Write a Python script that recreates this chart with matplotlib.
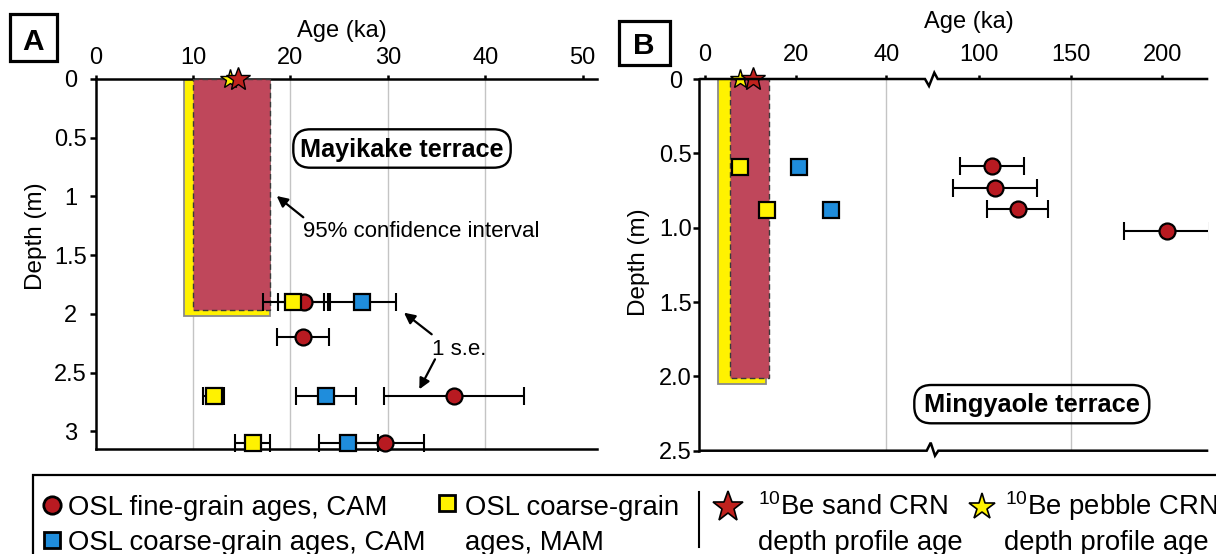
import matplotlib
matplotlib.use('Agg')
import matplotlib.pyplot as plt
from matplotlib.patches import Rectangle, FancyBboxPatch

plt.rcParams['font.family'] = ['Liberation Sans', 'DejaVu Sans']
plt.rcParams['mathtext.fontset'] = 'custom'
plt.rcParams['mathtext.rm'] = 'Liberation Sans'

# ---------------- Data: panel A (Mayikake terrace) ----------------
a_fine_age = [21.4, 21.3, 36.8, 29.7]
a_fine_err = [2.7, 2.7, 7.2, 4.0]
a_fine_depth = [1.90, 2.20, 2.70, 3.10]

a_cam_age = [27.3, 23.65, 25.95]
a_cam_err = [3.5, 3.1, 3.05]
a_cam_depth = [1.90, 2.70, 3.10]

a_mam_age = [20.3, 12.1, 16.1]
a_mam_err = [3.1, 1.1, 1.75]
a_mam_depth = [1.90, 2.70, 3.10]

a_sand_age = [14.6]
a_pebble_age = [13.8]
a_sand_ci = [9.96, 17.9, 1.97]     # min age, max age, bottom depth
a_pebble_ci = [9.1, 17.9, 2.02]

a_xticks = [0, 10, 20, 30, 40, 50]
a_yticks = [0, 0.5, 1, 1.5, 2, 2.5, 3]
a_yticklabels = ['0', '0.5', '1', '1.5', '2', '2.5', '3']
a_grid = [10, 20, 30, 40]

# ---------------- Data: panel B (Mingyaole terrace) ----------------
b_fine_age = [107.1, 108.6, 121.1, 202.6]
b_fine_err = [17.7, 23.1, 16.7, 23.5]
b_fine_depth = [0.585, 0.73, 0.875, 1.02]

b_cam_age = [20.8, 27.8]
b_cam_depth = [0.59, 0.88]

b_mam_age = [7.75, 13.7]
b_mam_depth = [0.59, 0.88]

b_sand_age = [10.5]
b_pebble_age = [7.7]
b_sand_ci = [5.5, 14.2, 2.009]
b_pebble_ci = [2.9, 13.5, 2.053]

b1_xticks = [0, 20, 40]
b2_xticks = [100, 150, 200]
b_yticks = [0, 0.5, 1.0, 1.5, 2.0, 2.5]
b_yticklabels = ['0', '0.5', '1.0', '1.5', '2.0', '2.5']
b1_grid = [40]
b2_grid = [150]

# ---------------- Style ----------------
RED = '#B81A21'
BLUE = '#1F8DDC'
YEL = '#FFF200'
PINK = '#BF475B'
STAR_RED = '#C0221E'
GRID = '#c4c4c4'
LW = 1.8

W, H = 1216, 554
fig = plt.figure(figsize=(W / 100, H / 100), dpi=100)


def ax_rect(l, r, t, b):
    return [l / W, 1 - b / H, (r - l) / W, (b - t) / H]


axA = fig.add_axes(ax_rect(95.7, 597, 79, 449.3))
axB1 = fig.add_axes(ax_rect(699.3, 930, 79, 450.7))
axB2 = fig.add_axes(ax_rect(930, 1208.3, 79, 450.7))

for ax in (axA, axB1, axB2):
    ax.patch.set_alpha(0)
    ax.xaxis.tick_top()
    for s in ax.spines.values():
        s.set_linewidth(LW)
    ax.spines['right'].set_visible(False)

TFS = 17

# panel A axes
axA.set_xlim(0, 51.47)
axA.set_ylim(3.154, 0)
axA.set_xticks(a_xticks)
axA.set_yticks(a_yticks)
axA.set_yticklabels(a_yticklabels)
axA.tick_params(axis='x', direction='out', length=3, width=LW, labelsize=TFS, pad=4.2)
axA.tick_params(axis='y', direction='out', length=4, width=LW, labelsize=TFS, pad=14.1)
plt.setp(axA.get_yticklabels(), ha='center')

# panel B axes (broken x axis: two adjacent axes)
for ax in (axB1, axB2):
    ax.set_ylim(2.5, 0)
    ax.spines['top'].set_visible(False)
    ax.spines['bottom'].set_visible(False)
axB1.set_xlim(-1.25, 49.6)
axB2.set_xlim(73.2, 225.2)
axB2.spines['left'].set_visible(False)
axB1.set_xticks(b1_xticks)
axB2.set_xticks(b2_xticks)
axB1.set_yticks(b_yticks)
axB1.set_yticklabels(b_yticklabels)
for ax in (axB1, axB2):
    ax.tick_params(axis='x', direction='out', length=3, width=LW, labelsize=TFS, pad=6.6)
axB1.tick_params(axis='y', direction='out', length=4, width=LW, labelsize=TFS, pad=13.2)
plt.setp(axB1.get_yticklabels(), ha='center')
axB2.tick_params(axis='y', left=False, labelleft=False)

# grid lines
for g in a_grid:
    axA.axvline(g, color=GRID, lw=1.0, zorder=1)
for g in b1_grid:
    axB1.axvline(g, color=GRID, lw=1.0, zorder=1)
for g in b2_grid:
    axB2.axvline(g, color=GRID, lw=1.0, zorder=1)


def ci_boxes(ax, peb, sand):
    ax.add_patch(Rectangle((peb[0], 0), peb[1] - peb[0], peb[2], facecolor=YEL,
                           edgecolor='#8a8a8a', lw=1.3, zorder=2))
    ax.add_patch(Rectangle((sand[0], 0), sand[1] - sand[0], sand[2], facecolor=PINK,
                           edgecolor='#3a3a3a', lw=1.0, ls=(0, (4, 2.5)), zorder=3))


ci_boxes(axA, a_pebble_ci, a_sand_ci)
ci_boxes(axB1, b_pebble_ci, b_sand_ci)

MS = 11.5
MEW = 1.6
eb_kw = dict(fmt='none', ecolor='black', elinewidth=1.5, capsize=6.5, capthick=1.5, zorder=4)

# panel A points
axA.errorbar(a_fine_age, a_fine_depth, xerr=a_fine_err, **eb_kw)
axA.errorbar(a_cam_age, a_cam_depth, xerr=a_cam_err, **eb_kw)
axA.errorbar(a_mam_age, a_mam_depth, xerr=a_mam_err, **eb_kw)
for art in axA.lines + list(axA.collections):
    art.set_clip_on(False)
axA.plot(a_fine_age, a_fine_depth, 'o', ms=MS, mfc=RED, mec='black', mew=MEW, zorder=5, clip_on=False)
axA.plot(a_cam_age, a_cam_depth, 's', ms=MS, mfc=BLUE, mec='black', mew=MEW, zorder=6, clip_on=False)
axA.plot(a_mam_age, a_mam_depth, 's', ms=MS, mfc=YEL, mec='black', mew=MEW, zorder=7, clip_on=False)
axA.plot(a_pebble_age, [0] * len(a_pebble_age), '*', ms=15, mfc=YEL, mec='black', mew=1.0, zorder=8, clip_on=False)
axA.plot(a_sand_age, [0] * len(a_sand_age), '*', ms=18, mfc=STAR_RED, mec='black', mew=1.0, zorder=9, clip_on=False)

# panel B points
axB2.errorbar(b_fine_age, b_fine_depth, xerr=b_fine_err, **eb_kw)
axB2.plot(b_fine_age, b_fine_depth, 'o', ms=MS, mfc=RED, mec='black', mew=MEW, zorder=5)
axB1.plot(b_cam_age, b_cam_depth, 's', ms=MS, mfc=BLUE, mec='black', mew=MEW, zorder=6)
axB1.plot(b_mam_age, b_mam_depth, 's', ms=MS, mfc=YEL, mec='black', mew=MEW, zorder=7)
axB1.plot(b_pebble_age, [0] * len(b_pebble_age), '*', ms=15, mfc=YEL, mec='black', mew=1.0, zorder=8, clip_on=False)
axB1.plot(b_sand_age, [0] * len(b_sand_age), '*', ms=18, mfc=STAR_RED, mec='black', mew=1.0, zorder=9, clip_on=False)

# ---------------- overlay (pixel coordinates) ----------------
ov = fig.add_axes([0, 0, 1, 1], zorder=10)
ov.set_xlim(0, W)
ov.set_ylim(H, 0)
ov.axis('off')
ov.patch.set_alpha(0)

# broken axis lines for B (top: dip then rise; bottom: rise then dip)
yt, yb = 79, 450.7
ov.plot([699.3, 925, 929, 934.3, 937.7, 1208.3], [yt, yt, yt + 7, yt - 6.3, yt, yt],
        color='black', lw=LW, solid_joinstyle='miter', solid_capstyle='butt')
ov.plot([699.3, 926.7, 930.7, 935.0, 938.3, 1208.3], [yb, yb, yb - 8, yb + 5, yb, yb],
        color='black', lw=LW, solid_joinstyle='miter', solid_capstyle='butt')

# panel letters
ov.add_patch(Rectangle((10, 14), 46.7, 47, fill=False, lw=2.3, edgecolor='black'))
ov.text(33.3, 50, 'A', fontsize=21.5, fontweight='bold', ha='center', va='baseline')
ov.add_patch(Rectangle((619.3, 20.7), 50.7, 44.3, fill=False, lw=2.3, edgecolor='black'))
ov.text(643.3, 54, 'B', fontsize=21.5, fontweight='bold', ha='center', va='baseline')

# axis titles
ov.text(341.5, 36.7, 'Age (ka)', fontsize=17, ha='center', va='baseline')
ov.text(968.8, 28.3, 'Age (ka)', fontsize=17, ha='center', va='baseline')
ov.text(36, 236, 'Depth (m)', fontsize=17.5, rotation=90, ha='center', va='center')
ov.text(639, 262, 'Depth (m)', fontsize=17.5, rotation=90, ha='center', va='center')

# terrace labels
ov.add_patch(FancyBboxPatch((293.3, 129.3), 217.4, 38.4,
                            boxstyle='round,pad=0,rounding_size=17', fill=False, lw=1.7, edgecolor='black'))
ov.text(401.7, 156.7, 'Mayikake terrace', fontsize=18.2, fontweight='bold', ha='center', va='baseline')
ov.add_patch(FancyBboxPatch((914.3, 385), 235, 38.3,
                            boxstyle='round,pad=0,rounding_size=17', fill=False, lw=1.7, edgecolor='black'))
ov.text(1032, 411.7, 'Mingyaole terrace', fontsize=18.3, fontweight='bold', ha='center', va='baseline')

# annotations
arrow_kw = dict(arrowstyle='-|>', lw=1.6, color='black', mutation_scale=16, shrinkA=0, shrinkB=0)
ov.text(303.3, 237.3, '95% confidence interval', fontsize=16, ha='left', va='baseline')
ov.annotate('', xy=(276.7, 196), xytext=(303.3, 217.3), arrowprops=arrow_kw)
ov.text(432, 355, '1 s.e.', fontsize=16, ha='left', va='baseline')
ov.annotate('', xy=(404, 312.7), xytext=(431.7, 334.3), arrowprops=arrow_kw)
ov.annotate('', xy=(419.3, 389.3), xytext=(435, 359.3), arrowprops=arrow_kw)

# legend frame
ov.plot([33, 33, W + 5], [H + 5, 475, 475], color='black', lw=1.6, solid_joinstyle='miter', clip_on=False)
ov.plot([699, 699], [491.7, 546.7], color='black', lw=1.5)

LFS = 19.8
ov.plot([51.7], [505], 'o', ms=12.5, mfc=RED, mec='black', mew=2)
ov.text(68.3, 515, 'OSL fine-grain ages, CAM', fontsize=LFS, va='baseline')
ov.plot([52.3], [540], 's', ms=11.5, mfc=BLUE, mec='black', mew=2)
ov.text(68.3, 550, 'OSL coarse-grain ages, CAM', fontsize=LFS, va='baseline')
ov.plot([446.7], [503.3], 's', ms=11.5, mfc=YEL, mec='black', mew=2)
ov.text(465, 515, 'OSL coarse-grain', fontsize=LFS, va='baseline')
ov.text(465, 550, 'ages, MAM', fontsize=LFS, va='baseline')
ov.plot([728.3], [506.7], '*', ms=23, mfc=STAR_RED, mec='black', mew=1.2)
ov.text(758.3, 515, r'$\mathregular{^{10}}$Be sand CRN', fontsize=LFS, va='baseline')
ov.text(758.3, 550, 'depth profile age', fontsize=LFS, va='baseline')
ov.plot([981.7], [506.7], '*', ms=20, mfc=YEL, mec='black', mew=1.2)
ov.text(1005, 515, r'$\mathregular{^{10}}$Be pebble CRN', fontsize=LFS, va='baseline')
ov.text(1004, 550, 'depth profile age', fontsize=LFS, va='baseline')

fig.savefig('out.png', dpi=100)
